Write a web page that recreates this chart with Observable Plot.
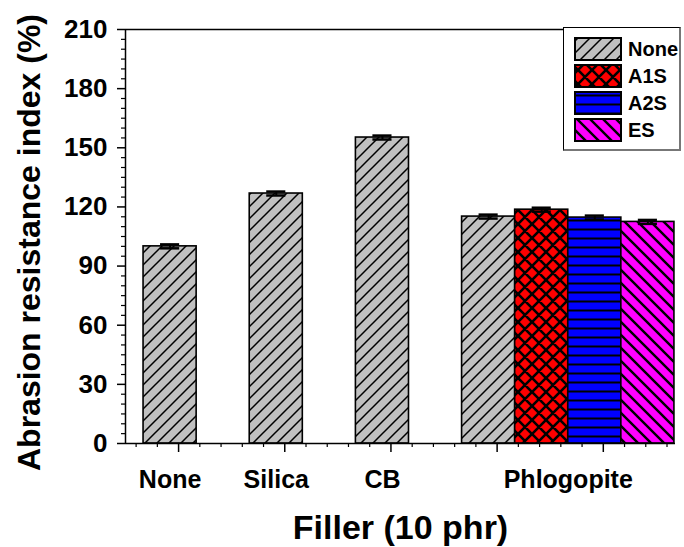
<!DOCTYPE html>
<html><head><meta charset="utf-8">
<script src="https://cdn.jsdelivr.net/npm/d3@7"></script>
<script src="https://cdn.jsdelivr.net/npm/@observablehq/plot@0.6"></script>
<style>
body{margin:0;background:#fff;font-family:"Liberation Sans",Arial,sans-serif;}
#wrap{position:relative;width:684px;height:547px;overflow:hidden;}
#legend{position:absolute;left:563px;top:27px;width:118px;height:124px;background:#fff;
  border-left:1.5px solid #000;border-top:1.5px solid #000;border-right:2px solid #777;border-bottom:2.5px solid #777;box-sizing:border-box;}
</style></head><body><div id="wrap"></div>
<script>
// ---- data ----
const groups = ["None", "Silica", "CB", "Phlogopite"];
const seriesNames = ["None", "A1S", "A2S", "ES"];
const barGroup = ["None", "Silica", "CB", "Phlogopite", "Phlogopite", "Phlogopite", "Phlogopite"];
const barSeries = ["None", "None", "None", "None", "A1S", "A2S", "ES"];
const values = [100, 126.8, 155.2, 115.1, 118.6, 114.6, 112.4];
const errors = [1, 1, 1, 1, 1, 1, 1];
const yTicks = [0, 30, 60, 90, 120, 150, 180, 210];
const xTitle = "Filler (10 phr)";
const yTitle = "Abrasion resistance index (%)";

// ---- layout in data units ----
const barW = 0.5, shift = 0.08;
const counts = {};
const bars = values.map((v, i) => {
  const g = groups.indexOf(barGroup[i]);
  const k = counts[barGroup[i]] = (counts[barGroup[i]] ?? -1) + 1;
  const x = g + 1 - shift + k * barW;
  return {group: barGroup[i], series: barSeries[i], v, e: errors[i], x};
});
const groupCenter = new Map(groups.map(g => {
  const b = bars.filter(d => d.group === g);
  return [g, (d3.min(b, d => d.x) + d3.max(b, d => d.x)) / 2];
}));
const labelAt = new Map([...groupCenter].map(([g, x]) => [x, g]));
const xMajor = [1, 2, 3, 4, 5];
const xMinor = d3.range(3, 29).map(i => +(i * 0.2).toFixed(1)).filter(d => !Number.isInteger(d));
const yMinor = d3.range(0, 211, 5).filter(d => d % 30 !== 0);

const font = {fontFamily: "Liberation Sans, Arial, sans-serif", fontWeight: "bold"};
const plot = Plot.plot({
  width: 684, height: 547,
  marginLeft: 125, marginRight: 9, marginTop: 29, marginBottom: 104,
  x: {domain: [0.5, 5.68], axis: null},
  y: {domain: [0, 210], axis: null},
  style: {...font, color: "#000", background: "#fff", overflow: "visible"},
  marks: [
    ...seriesNames.map(s => Plot.rectY(bars.filter(d => d.series === s), {
      x1: d => d.x - barW / 2, x2: d => d.x + barW / 2, y1: 0, y2: "v",
      fill: `url(#pat-${s})`, stroke: "#000", strokeWidth: 1.6
    })),
    Plot.ruleX(bars, {x: "x", y1: d => d.v - d.e, y2: d => d.v + d.e, stroke: "#000", strokeWidth: 2}),
    Plot.ruleY(bars, {y: d => d.v + d.e, x1: d => d.x - 0.09, x2: d => d.x + 0.09, stroke: "#000", strokeWidth: 2.5}),
    Plot.ruleY(bars, {y: d => d.v - d.e, x1: d => d.x - 0.09, x2: d => d.x + 0.09, stroke: "#000", strokeWidth: 2.5}),
    Plot.ruleY([0], {stroke: "#000", strokeWidth: 1.5}),
    Plot.ruleY([210], {stroke: "#000", strokeWidth: 1.5}),
    Plot.ruleX([0.5], {y1: 0, y2: 210, stroke: "#000", strokeWidth: 1.5}),
    Plot.axisY({ticks: yTicks, anchor: "left", tickSize: 8, tickPadding: 10, label: null, fontSize: 26, strokeWidth: 1.5, ...font}),
    Plot.axisY({ticks: yMinor, anchor: "left", tickSize: 4, tickFormat: () => "", label: null, strokeWidth: 1.2}),
    Plot.axisX({ticks: xMajor, anchor: "bottom", tickSize: 9, tickFormat: () => "", label: null, strokeWidth: 1.5}),
    Plot.axisX({ticks: xMinor, anchor: "bottom", tickSize: 4, tickFormat: () => "", label: null, strokeWidth: 1.2}),
    Plot.axisX({ticks: [...groupCenter.values()], anchor: "bottom", tickSize: 0, tickPadding: 27,
      tickFormat: d => labelAt.get(d), label: null, fontSize: 25, ...font}),
    Plot.text([xTitle], {frameAnchor: "bottom", dy: 95, fontSize: 34, ...font, fill: "#000"}),
    Plot.text([yTitle], {frameAnchor: "left", textAnchor: "middle", dx: -96, dy: 6, rotate: -90, fontSize: 32, ...font, fill: "#000"})
  ]
});

// pattern definitions
const defs = d3.select(plot).insert("defs", ":first-child");
function pat(id, w, h, bg, d, sw) {
  const p = defs.append("pattern").attr("id", id).attr("patternUnits", "userSpaceOnUse").attr("width", w).attr("height", h);
  p.append("rect").attr("width", w).attr("height", h).attr("fill", bg);
  p.append("path").attr("d", d).attr("stroke", "#000").attr("stroke-width", sw).attr("fill", "none");
}
pat("pat-None", 12, 12, "#c0c0c0", "M-3,3L3,-3M0,12L12,0M9,15L15,9", 1.5);
pat("pat-A1S", 14, 14, "#ff0000", "M-3,3L3,-3M0,14L14,0M11,17L17,11M-3,11L3,17M0,0L14,14M11,-3L17,3", 2.6);
pat("pat-A2S", 9, 9, "#0000ff", "M0,4.5L9,4.5", 2);
pat("pat-ES", 13, 13, "#ff00ff", "M-3,10L3,16M0,0L13,13M10,-3L16,3", 2.4);

const wrap = document.getElementById("wrap");
wrap.appendChild(plot);

// legend
const leg = d3.select(wrap).append("div").attr("id", "legend");
const lsvg = leg.append("svg").attr("width", 118).attr("height", 122).style("display", "block");
seriesNames.forEach((s, i) => {
  const y = 10 + i * 27;
  lsvg.append("rect").attr("x", 11).attr("y", y).attr("width", 46).attr("height", 22)
    .attr("fill", `url(#pat-${s})`).attr("stroke", "#000").attr("stroke-width", 2);
  lsvg.append("text").attr("x", 64).attr("y", y + 11).attr("dy", "0.36em")
    .attr("font-family", font.fontFamily).attr("font-weight", "bold").attr("font-size", 20).text(s);
});
</script>
</body></html>
